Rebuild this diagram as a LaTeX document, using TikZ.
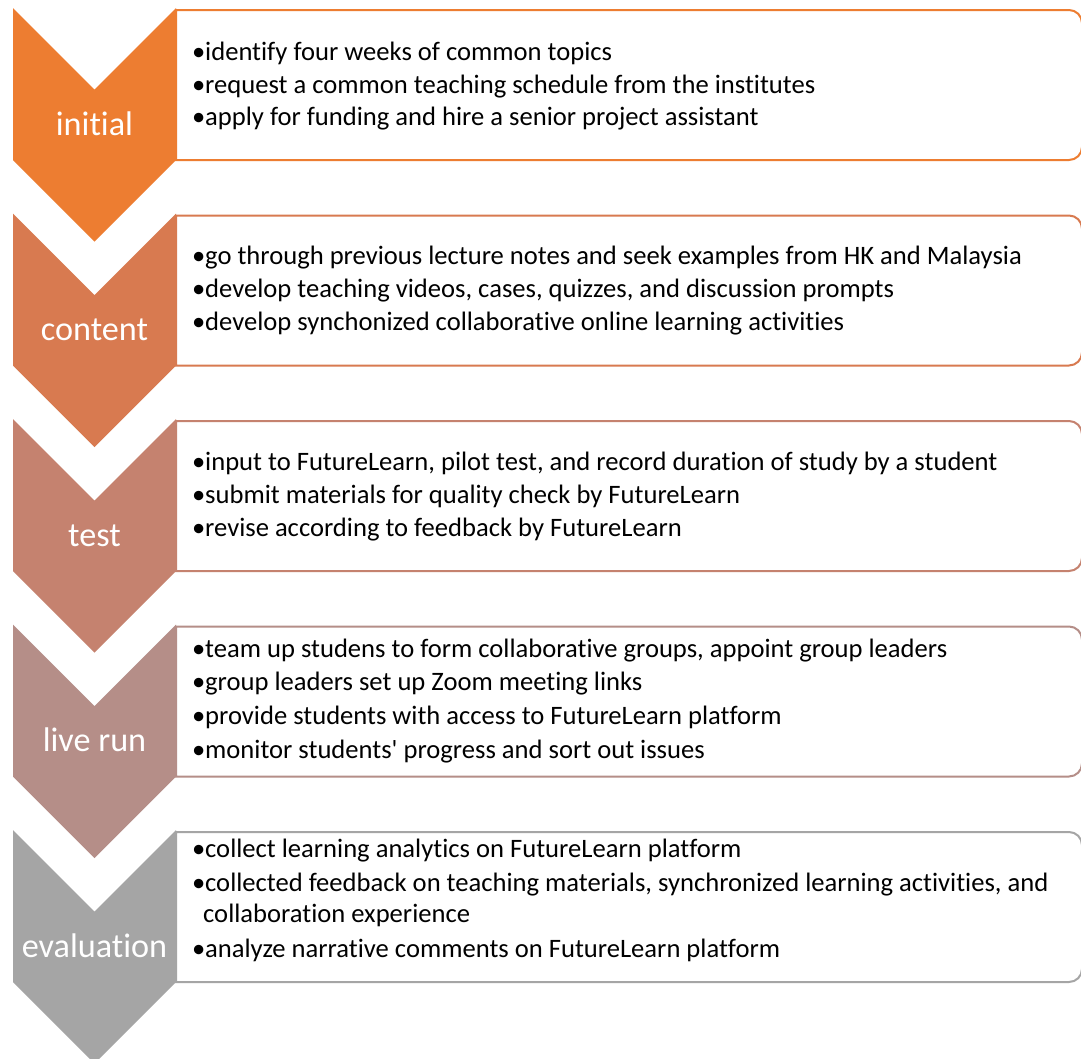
\documentclass[tikz,border=0pt]{standalone}
\usepackage{fontspec}
\newfontfamily\calib{Carlito}[Ligatures=NoCommon]
\definecolor{cA}{HTML}{ED7D31}
\definecolor{cB}{HTML}{D87A50}
\definecolor{cC}{HTML}{C5826F}
\definecolor{cD}{HTML}{B58E88}
\definecolor{cE}{HTML}{A5A5A5}
\tikzset{
  chev/.style={fill=#1, draw=none},
  boxframe/.style={draw=#1, line width=2pt, fill=white},
  lbl/.style={text=white, font=\calib\fontsize{34.2}{40}\selectfont, anchor=base, inner sep=0pt},
  item/.style={anchor=base west, inner sep=0pt, font=\calib\fontsize{26.6}{32}\selectfont, text=black},
}
\newcommand\bul{\makebox[13pt][l]{•}}
\newcommand\mychevron[2]{%
  \path[chev=#2] (13,#1) -- (94.5,#1+81.5) -- (176,#1) -- (176,#1+152)
    -- (94.5,#1+233.5) -- (13,#1+152) -- cycle;}
\newcommand\mybox[2]{%
  \path[boxframe=#2] (176,#1+2) [rounded corners=13pt] -- (1082,#1+2) -- (1082,#1+152)
    [sharp corners] -- (176,#1+152) -- cycle;}
\begin{document}
\begin{tikzpicture}[x=1pt,y=-1pt]
\useasboundingbox (0,0) rectangle (1081,1058);
\clip (0,0) rectangle (1081,1058);
\fill[white] (0,0) rectangle (1081,1058);
% boxes
\mybox{8}{cA}
\mybox{213.5}{cB}
\mybox{419}{cC}
\mybox{624.5}{cD}
\mybox{830}{cE}
% chevrons
\mychevron{8}{cA}
\mychevron{213.5}{cB}
\mychevron{419}{cC}
\mychevron{624.5}{cD}
\mychevron{830}{cE}
% labels
\node[lbl] (l1) at (94.5,135) {initial};
\node[lbl] (l2) at (94.5,340.5) {content};
\node[lbl] (l3) at (94.5,546) {test};
\node[lbl] (l4) at (94.5,751.5) {live run};
\node[lbl] (l5) at (94.5,957) {evaluation};
% items
\node[item] (a1) at (192,60) {\bul identify four weeks of common topics};
\node[item] (a2) at (192,93) {\bul request a common teaching schedule from the institutes};
\node[item] (a3) at (192,125.5) {\bul apply for funding and hire a senior project assistant};
\node[item] (b1) at (192,264) {\bul go through previous lecture notes and seek examples from HK and Malaysia};
\node[item] (b2) at (192,297) {\bul develop teaching videos, cases, quizzes, and discussion prompts};
\node[item] (b3) at (192,330) {\bul develop synchonized collaborative online learning activities};
\node[item] (c1) at (192,470) {\bul input to FutureLearn, pilot test, and record duration of study by a student};
\node[item] (c2) at (192,503) {\bul submit materials for quality check by FutureLearn};
\node[item] (c3) at (192,536) {\bul revise according to feedback by FutureLearn};
\node[item] (d1) at (192,657) {\bul team up studens to form collaborative groups, appoint group leaders};
\node[item] (d2) at (192,690.5) {\bul group leaders set up Zoom meeting links};
\node[item] (d3) at (192,724) {\bul provide students with access to FutureLearn platform};
\node[item] (d4) at (192,758) {\bul monitor students' progress and sort out issues};
\node[item] (e1) at (192,857) {\bul collect learning analytics on FutureLearn platform};
\node[item] (e2) at (192,891.5) {\bul collected feedback on teaching materials, synchronized learning activities, and};
\node[item] (e2b) at (203,922) {collaboration experience};
\node[item] (e3) at (192,957) {\bul analyze narrative comments on FutureLearn platform};
\end{tikzpicture}
\end{document}
